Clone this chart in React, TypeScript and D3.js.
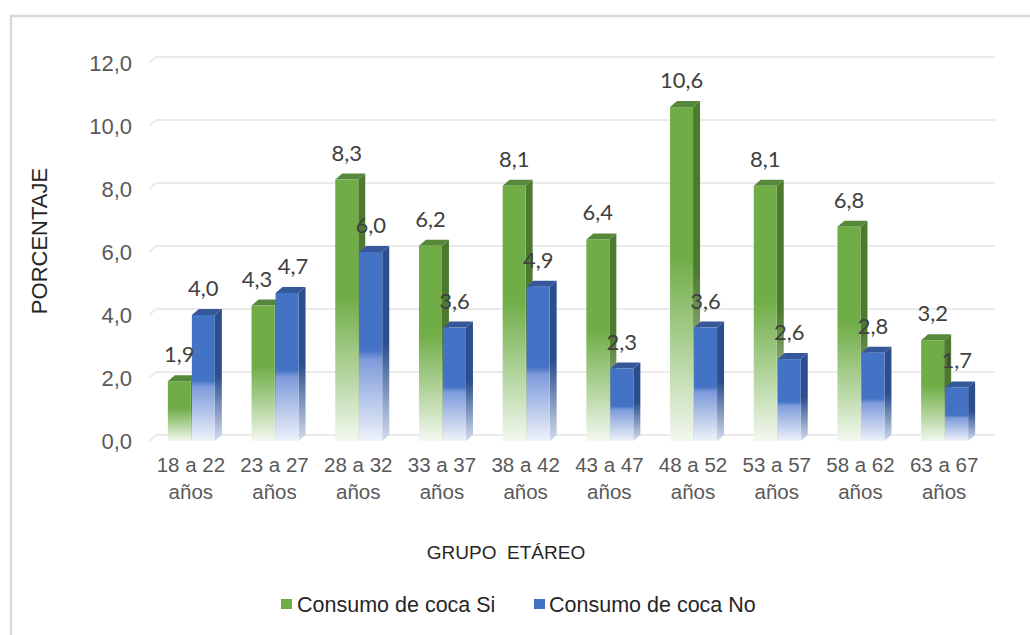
import React from "react";
import * as d3 from "d3";

const categories = [
  "18 a 22", "23 a 27", "28 a 32", "33 a 37", "38 a 42",
  "43 a 47", "48 a 52", "53 a 57", "58 a 62", "63 a 67",
];
const consumoSi = [1.9, 4.3, 8.3, 6.2, 8.1, 6.4, 10.6, 8.1, 6.8, 3.2];
const consumoNo = [4.0, 4.7, 6.0, 3.6, 4.9, 2.3, 3.6, 2.6, 2.8, 1.7];
const yTicks = [0, 2, 4, 6, 8, 10, 12];
const seriesNames = ["Consumo de coca Si", "Consumo de coca No"];

const W = 1030;
const H = 635;
const DX = 7; // depth offset to the right
const DY = 6; // depth offset upward
const BAR_W = 23;
const LABEL_SIZE = 22;

const locale = d3.formatLocale({ decimal: ",", thousands: ".", grouping: [3], currency: ["", ""] });
const fmt = locale.format(".1f");

const x = d3.scaleBand<string>().domain(categories).range([149, 986]).padding(0);
const y = d3.scaleLinear().domain([0, 12]).range([441, 63]);

const AXIS_FONT = "'Liberation Sans', Arial, sans-serif";
const LABEL_FONT = "Lato, 'Open Sans', sans-serif";

type Palette = {
  id: string;
  front: string;
  frontStops: [number, string][];
  side: string;
  sideEnd: string;
  top: string;
};

const green: Palette = {
  id: "g",
  front: "#70ad47",
  frontStops: [
    [0, "#70ad47"],
    [0.45, "#70ad47"],
    [0.75, "#b4d59f"],
    [1, "#f3f8f0"],
  ],
  side: "#4d7a2f",
  sideEnd: "#dfe9d8",
  top: "#55883a",
};
const blue: Palette = {
  id: "b",
  front: "#4472c4",
  frontStops: [
    [0, "#4472c4"],
    [0.52, "#4472c4"],
    [0.57, "#7e9cdb"],
    [1, "#eef2fa"],
  ],
  side: "#2c4e8c",
  sideEnd: "#d3dcee",
  top: "#34589a",
};

function Gradients({ p }: { p: Palette }) {
  return (
    <>
      <linearGradient id={`${p.id}-front`} x1="0" y1="0" x2="0" y2="1">
        {p.frontStops.map(([o, c]) => (
          <stop key={o} offset={o} stopColor={c} />
        ))}
      </linearGradient>
      <linearGradient id={`${p.id}-side`} x1="0" y1="0" x2="0" y2="1">
        <stop offset="0" stopColor={p.side} />
        <stop offset="0.5" stopColor={p.side} />
        <stop offset="1" stopColor={p.sideEnd} />
      </linearGradient>
    </>
  );
}

function Bar3D({ x0, value, p }: { x0: number; value: number; p: Palette }) {
  const yt = y(value);
  const yb = y(0);
  const x1 = x0 + BAR_W;
  const side = `${x1},${yt} ${x1 + DX},${yt - DY} ${x1 + DX},${yb - DY} ${x1},${yb}`;
  const top = `${x0},${yt} ${x0 + DX},${yt - DY} ${x1 + DX},${yt - DY} ${x1},${yt}`;
  return (
    <g>
      <polygon points={side} fill={`url(#${p.id}-side)`} />
      <polygon points={top} fill={p.top} />
      <rect x={x0} y={yt} width={BAR_W} height={yb - yt} fill={`url(#${p.id}-front)`} />
    </g>
  );
}

// Positions of the two value labels in a group; when they would collide,
// they are pushed apart sideways.
function labelPositions(cx: number, si: number, no: number) {
  let xs = cx - BAR_W / 2;
  let xn = cx + 1 + BAR_W / 2;
  const ys = y(si) - 19;
  const yn = y(no) - 19;
  const halfW = 17;
  if (Math.abs(ys - yn) < LABEL_SIZE * 0.8 && xn - xs < 2 * halfW) {
    const push = (2 * halfW - (xn - xs)) / 2 + 1;
    xs -= push;
    xn += push;
  }
  return { xs, ys, xn, yn };
}

export default function App() {
  return (
    <svg
      width={W}
      height={H}
      viewBox={`0 0 ${W} ${H}`}
      style={{ position: "absolute", left: 0, top: 0, background: "#ffffff" }}
    >
      <defs>
        <Gradients p={green} />
        <Gradients p={blue} />
      </defs>

      {/* chart frame */}
      <rect x={11} y={16} width={W + 20} height={H + 20} fill="#ffffff" stroke="#d9d9d9" strokeWidth={2.5} />

      {/* back-wall gridlines with floor diagonals */}
      {yTicks.map((t) => (
        <g key={t} stroke="#ebebeb" strokeWidth={2} fill="none">
          <line x1={149} y1={y(t)} x2={149 + DX} y2={y(t) - DY} />
          <line x1={149 + DX} y1={y(t) - DY} x2={995} y2={y(t) - DY} />
        </g>
      ))}

      {/* y tick labels */}
      {yTicks.map((t) => (
        <text
          key={t}
          x={132}
          y={y(t)}
          dy="0.35em"
          textAnchor="end"
          fontFamily={AXIS_FONT}
          fontSize={22}
          fill="#595959"
        >
          {fmt(t)}
        </text>
      ))}

      {/* bars */}
      {categories.map((c, i) => {
        const cx = (x(c) as number) + x.bandwidth() / 2;
        return (
          <g key={c}>
            <Bar3D x0={cx - BAR_W} value={consumoSi[i]} p={green} />
            <Bar3D x0={cx + 1} value={consumoNo[i]} p={blue} />
          </g>
        );
      })}

      {/* data labels */}
      {categories.map((c, i) => {
        const cx = (x(c) as number) + x.bandwidth() / 2;
        const { xs, ys, xn, yn } = labelPositions(cx, consumoSi[i], consumoNo[i]);
        return (
          <g key={c} fontFamily={LABEL_FONT} fontSize={LABEL_SIZE} fill="#404040" textAnchor="middle">
            <text x={xs} y={ys}>{fmt(consumoSi[i])}</text>
            <text x={xn} y={yn}>{fmt(consumoNo[i])}</text>
          </g>
        );
      })}

      {/* category labels */}
      {categories.map((c) => {
        const cx = (x(c) as number) + x.bandwidth() / 2;
        return (
          <text key={c} x={cx} textAnchor="middle" fontFamily={AXIS_FONT} fontSize={20.5} fill="#595959">
            <tspan x={cx} y={472}>{c}</tspan>
            <tspan x={cx} y={499}>años</tspan>
          </text>
        );
      })}

      {/* axis titles */}
      <text
        transform="translate(47,241) rotate(-90)"
        textAnchor="middle"
        fontFamily={AXIS_FONT}
        fontSize={22}
        fill="#262626"
      >
        PORCENTAJE
      </text>
      <text
        x={506}
        y={559}
        textAnchor="middle"
        fontFamily={AXIS_FONT}
        fontSize={19}
        fill="#262626"
        style={{ whiteSpace: "pre" }}
      >
        GRUPO  ETÁREO
      </text>

      {/* legend */}
      <g fontFamily={AXIS_FONT} fontSize={21.5} fill="#262626">
        <rect x={281} y={599} width={11} height={10} fill={green.front} />
        <text x={297} y={612}>{seriesNames[0]}</text>
        <rect x={534} y={599} width={11} height={10} fill={blue.front} />
        <text x={549} y={612}>{seriesNames[1]}</text>
      </g>
    </svg>
  );
}
